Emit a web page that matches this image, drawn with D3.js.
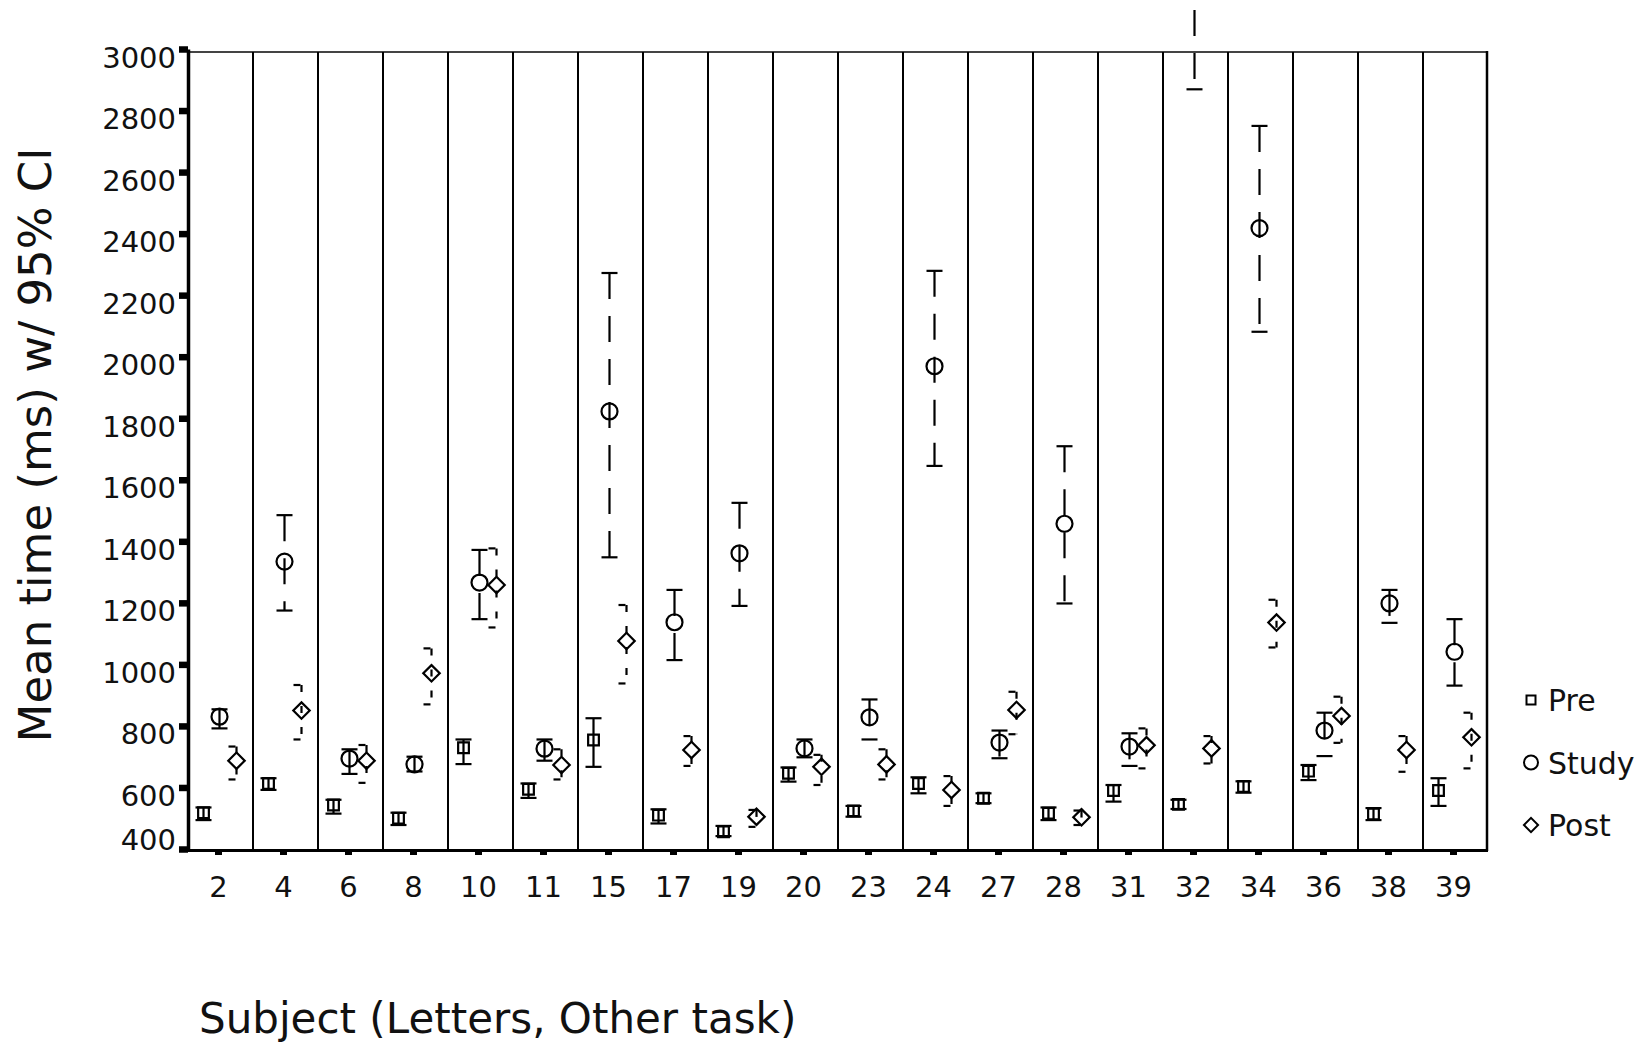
<!DOCTYPE html>
<html>
<head>
<meta charset="utf-8">
<script src="https://cdn.jsdelivr.net/npm/d3@7"></script>
<style>
  body { margin: 0; background: #fff; }
  text { font-family: "DejaVu Sans", sans-serif; fill: #111; }
</style>
</head>
<body>
<div id="errChart"></div>
<script>
// subjects on the x axis
var subjects = ["2","4","6","8","10","11","15","17","19","20","23","24","27","28","31","32","34","36","38","39"];
var seriesNames = ["Pre", "Study", "Post"];
var yTicks = [400,600,800,1000,1200,1400,1600,1800,2000,2200,2400,2600,2800,3000];

// means and 95% CI bounds (ms)
var preMean = [518,613,543,500,729,594,754,510,456,646,524,613,565,516,590,545,603,653,514,590];
var preLo   = [494,592,515,478,676,566,667,483,442,619,505,581,549,494,554,530,583,624,494,540];
var preHi   = [535,630,560,518,756,613,825,529,475,665,540,633,581,535,608,560,620,673,533,630];

var studyMean = [830,1334,694,675,1266,726,1822,1137,1361,727,828,1969,746,1457,733,3208,2418,785,1198,1041];
var studyLo   = [792,1175,644,652,1147,687,1348,1014,1190,698,756,1645,695,1198,670,2869,2081,702,1135,931];
var studyHi   = [854,1485,724,700,1372,756,2272,1242,1525,756,886,2279,785,1709,776,3546,2750,843,1242,1147];

var postMean = [687,850,687,971,1258,673,1076,722,505,667,675,592,852,503,737,727,1136,832,722,763];
var postLo   = [626,756,615,870,1120,626,938,670,472,608,626,540,773,478,662,678,1055,745,651,662];
var postHi   = [733,933,738,1052,1377,724,1193,767,527,706,724,637,911,525,792,767,1210,895,767,843];

var width = 1646;
var height = 1046;
var plotLeft = 188, plotRight = 1488, plotTop = 49, plotBottom = 849;

var svg = d3.select("#errChart")
            .append("svg")
            .attr("width", width)
            .attr("height", height);

var y = d3.scaleLinear().domain([400, 3000]).range([plotBottom, plotTop]);
var x = d3.scaleBand().domain(subjects).range([plotLeft, plotRight]).padding(0);

// offset of each series inside a subject panel
var offset = d3.scaleOrdinal().domain(seriesNames).range([-17, -1, 16]);
var dash = d3.scaleOrdinal().domain(seriesNames).range(["none", "26,17", "7,14"]);

// frame: top line, right line, panel dividers
svg.append("line")
   .attr("x1", plotLeft).attr("x2", plotRight)
   .attr("y1", 52).attr("y2", 52)
   .attr("stroke", "#444").attr("stroke-width", 2);

svg.append("line")
   .attr("x1", plotRight - 1).attr("x2", plotRight - 1)
   .attr("y1", 51).attr("y2", 851)
   .attr("stroke", "#000").attr("stroke-width", 2.5);

svg.selectAll("divider")
   .data(subjects.slice(1))
   .enter()
   .append("line")
   .attr("x1", d => x(d)).attr("x2", d => x(d))
   .attr("y1", 52).attr("y2", 850)
   .attr("stroke", "#000")
   .attr("stroke-width", 2);

// y axis
var yAxis = svg.append("g")
   .attr("transform", "translate(" + plotLeft + ",0)")
   .call(d3.axisLeft(y).tickValues(yTicks).tickFormat(d3.format("d"))
           .tickSize(9).tickSizeOuter(0).tickPadding(3));

yAxis.select(".domain").attr("stroke", "#000").attr("stroke-width", 3.5);
yAxis.selectAll(".tick line").attr("stroke", "#000").attr("stroke-width", 6.5);
yAxis.selectAll(".tick text")
     .attr("font-size", "29px")
     .attr("font-family", "DejaVu Sans")
     .attr("dy", d => d === 400 ? "0px" : "18px");

// x axis
var xAxis = svg.append("g")
   .attr("transform", "translate(-2," + 850 + ")")
   .call(d3.axisBottom(x).tickSize(5).tickSizeOuter(0));

xAxis.select(".domain").remove();
xAxis.selectAll(".tick line").attr("stroke", "#000").attr("stroke-width", 7);
xAxis.selectAll(".tick text")
     .attr("font-size", "29px")
     .attr("font-family", "DejaVu Sans")
     .attr("y", 47)
     .attr("dy", 0);

svg.append("line")
   .attr("x1", plotLeft - 2).attr("x2", plotRight)
   .attr("y1", 850.5).attr("y2", 850.5)
   .attr("stroke", "#000").attr("stroke-width", 3);

// series tables built from the arrays
var series = [
  {name: "Pre",   mean: preMean,   lo: preLo,   hi: preHi},
  {name: "Study", mean: studyMean, lo: studyLo, hi: studyHi},
  {name: "Post",  mean: postMean,  lo: postLo,  hi: postHi}
];

var symbolFor = {
  Pre:   d3.symbol().type(d3.symbolSquare).size(115)(),
  Study: d3.symbol().type(d3.symbolCircle).size(Math.PI * 64)(),
  Post:  d3.symbol().type(d3.symbolSquare).size(135)()
};

var capHalf = 8;

series.forEach(function(s) {
  var pts = subjects.map(function(sub, i) {
    return {sub: sub, mean: s.mean[i], lo: s.lo[i], hi: s.hi[i],
            cx: x(sub) + x.bandwidth() / 2 + offset(s.name)};
  });

  var g = svg.append("g").attr("class", "series-" + s.name);

  // whisker: top cap, vertical line, bottom cap
  var w = g.selectAll("whisk").data(pts).enter().append("g")
           .attr("stroke", "#000")
           .attr("stroke-width", 2.2)
           .attr("fill", "none")
           .attr("stroke-dasharray", dash(s.name));

  w.append("line")
   .attr("x1", d => d.cx - capHalf).attr("x2", d => d.cx + capHalf)
   .attr("y1", d => y(d.hi)).attr("y2", d => y(d.hi));
  w.append("line")
   .attr("x1", d => d.cx).attr("x2", d => d.cx)
   .attr("y1", d => y(d.hi)).attr("y2", d => y(d.lo));
  w.append("line")
   .attr("x1", d => d.cx - capHalf).attr("x2", d => d.cx + capHalf)
   .attr("y1", d => y(d.lo)).attr("y2", d => y(d.lo));

  // marker at the mean
  g.selectAll("marker").data(pts).enter().append("path")
   .attr("d", symbolFor[s.name])
   .attr("transform", d => "translate(" + d.cx + "," + y(d.mean) + ")" + (s.name === "Post" ? " rotate(45)" : ""))
   .attr("fill", "none")
   .attr("stroke", "#000")
   .attr("stroke-width", 2.2);
});

// legend
var legendSym = {
  Pre:   d3.symbol().type(d3.symbolSquare).size(81)(),
  Study: d3.symbol().type(d3.symbolCircle).size(Math.PI * 49)(),
  Post:  d3.symbol().type(d3.symbolSquare).size(100)()
};

var legend = svg.selectAll("legendItem")
   .data(seriesNames)
   .enter()
   .append("g")
   .attr("transform", (d, i) => "translate(1531," + (700 + i * 62.5) + ")");

legend.append("path")
   .attr("d", d => legendSym[d])
   .attr("transform", d => d === "Post" ? "rotate(45)" : null)
   .attr("fill", "none")
   .attr("stroke", "#000")
   .attr("stroke-width", 2);

legend.append("text")
   .attr("x", 17)
   .attr("y", 11)
   .attr("font-size", "30px")
   .text(d => d);

// axis titles
svg.append("text")
   .attr("transform", "translate(51,445) rotate(-90)")
   .attr("text-anchor", "middle")
   .attr("font-size", "45px")
   .text("Mean time (ms) w/ 95% CI");

svg.append("text")
   .attr("x", 199)
   .attr("y", 1033)
   .attr("font-size", "42px")
   .text("Subject (Letters, Other task)");
</script>
</body>
</html>
